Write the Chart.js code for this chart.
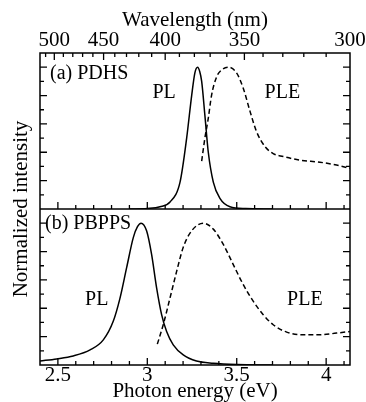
<!DOCTYPE html>
<html><head><meta charset="utf-8">
<script src="https://cdn.jsdelivr.net/npm/chart.js@4"></script>
<style>html,body{margin:0;padding:0;background:#fff;}</style>
</head><body>
<canvas id="c" width="366" height="402"></canvas>
<script>
// ---- data ----
const energyTickLabels = [2.5, 3, 3.5, 4];
const wavelengthTickLabels = [500, 450, 400, 350, 300];

// (a) PDHS
const pdhsPLEnergy  = [2.90, 3.00, 3.071, 3.127, 3.183, 3.22, 3.248, 3.266, 3.281, 3.293, 3.304, 3.322, 3.341, 3.369, 3.406, 3.462, 3.55, 3.70];
const pdhsPL        = [0.0, 0.004, 0.016, 0.05, 0.19, 0.50, 0.80, 0.96, 1.0, 0.97, 0.90, 0.66, 0.40, 0.19, 0.075, 0.016, 0.003, 0.0];
const pdhsPLEEnergy = [3.304, 3.322, 3.341, 3.359, 3.387, 3.415, 3.453, 3.499, 3.537, 3.574, 3.611, 3.658, 3.704, 3.76, 3.853, 3.965, 4.058, 4.133];
const pdhsPLE       = [0.338, 0.50, 0.64, 0.80, 0.93, 0.98, 1.0, 0.96, 0.85, 0.69, 0.545, 0.44, 0.39, 0.37, 0.345, 0.33, 0.31, 0.287];

// (b) PBPPS
const pbppsPLEnergy  = [2.40, 2.493, 2.586, 2.68, 2.754, 2.81, 2.847, 2.885, 2.922, 2.945, 2.965, 2.996, 3.024, 3.052, 3.08, 3.108, 3.145, 3.201, 3.275, 3.369, 3.50, 3.70];
const pbppsPL        = [0.028, 0.043, 0.064, 0.106, 0.177, 0.31, 0.47, 0.69, 0.90, 0.975, 1.0, 0.946, 0.78, 0.544, 0.355, 0.236, 0.142, 0.071, 0.028, 0.012, 0.003, 0.0];
const pbppsPLEEnergy = [3.056, 3.089, 3.127, 3.164, 3.201, 3.248, 3.313, 3.369, 3.425, 3.48, 3.536, 3.592, 3.648, 3.704, 3.779, 3.872, 3.965, 4.058, 4.133];
const pbppsPLE       = [0.147, 0.284, 0.473, 0.66, 0.83, 0.946, 1.0, 0.958, 0.85, 0.71, 0.568, 0.45, 0.355, 0.284, 0.232, 0.213, 0.213, 0.225, 0.236];

// ---- setup ----
const SERIF = "'Liberation Serif', 'Times New Roman', serif";
Chart.defaults.font.family = SERIF;
Chart.defaults.color = '#000';
const E_MIN = 2.4, E_MAX = 1240 / 300;
const pts = (xs, ys) => xs.map((x, i) => ({x: x, y: ys[i]}));
const solid = {borderColor: '#000', borderWidth: 1.5, pointRadius: 0, fill: false, cubicInterpolationMode: 'monotone'};
const dashed = Object.assign({}, solid, {borderDash: [5, 3]});
const axisFont = {family: SERIF, size: 21, lineHeight: 1};

const annotations = [
  {text: '(a) PDHS', x: 2.456, y: 0.952, axis: 'yA', align: 'left'},
  {text: 'PL',       x: 3.094, y: 0.821, axis: 'yA', align: 'center'},
  {text: 'PLE',      x: 3.755, y: 0.821, axis: 'yA', align: 'center'},
  {text: '(b) PBPPS',x: 2.428, y: 0.996, axis: 'yB', align: 'left'},
  {text: 'PL',       x: 2.717, y: 0.457, axis: 'yB', align: 'center'},
  {text: 'PLE',      x: 3.881, y: 0.457, axis: 'yB', align: 'center'}
];

const frameTicks = {
  id: 'frameTicks',
  afterDraw(chart) {
    const ctx = chart.ctx;
    const sx = chart.scales.x, yA = chart.scales.yA, yB = chart.scales.yB;
    const L = sx.left, R = sx.right;
    const T = Math.min(yA.top, yB.top), B = Math.max(yA.bottom, yB.bottom);
    const M = yA.top < yB.top ? yA.bottom : yB.bottom;
    ctx.save();
    ctx.strokeStyle = '#000';
    ctx.lineWidth = 1.5;
    ctx.strokeRect(L, T, R - L, B - T);
    ctx.beginPath(); ctx.moveTo(L, M); ctx.lineTo(R, M); ctx.stroke();
    ctx.lineWidth = 1.3;
    ctx.beginPath();
    // energy ticks (bottom frame and panel divider), pointing up
    for (let k = 25; k <= 41; k++) {
      const px = sx.getPixelForValue(k / 10);
      const len = (k % 5 === 0) ? 7 : 4;
      ctx.moveTo(px, B); ctx.lineTo(px, B - len);
      ctx.moveTo(px, M); ctx.lineTo(px, M - len);
    }
    // wavelength ticks (top frame), pointing down
    for (let l = 310; l <= 510; l += 10) {
      const px = sx.getPixelForValue(1240 / l);
      if (px < L + 1 || px > R - 1) continue;
      const len = (l % 50 === 0) ? 7 : 4;
      ctx.moveTo(px, T); ctx.lineTo(px, T + len);
    }
    // intensity ticks, both sides, both panels
    [yA, yB].forEach(ys => {
      for (let k = 1; k <= 10; k++) {
        const py = ys.getPixelForValue(k / 10);
        const len = (k % 2 === 0) ? 7 : 4;
        ctx.moveTo(L, py); ctx.lineTo(L + len, py);
        ctx.moveTo(R, py); ctx.lineTo(R - len, py);
      }
    });
    ctx.stroke();
    // y title
    ctx.fillStyle = '#000';
    ctx.font = '21px ' + SERIF;
    ctx.textAlign = 'center';
    ctx.textBaseline = 'middle';
    ctx.save();
    ctx.translate(L - 19, (T + B) / 2);
    ctx.rotate(-Math.PI / 2);
    ctx.fillText('Normalized intensity', 0, 0);
    ctx.restore();
    // panel annotations
    ctx.font = '20px ' + SERIF;
    annotations.forEach(a => {
      ctx.textAlign = a.align;
      ctx.fillText(a.text, sx.getPixelForValue(a.x), chart.scales[a.axis].getPixelForValue(a.y));
    });
    ctx.restore();
  }
};

const yAxis = () => ({
  type: 'linear', axis: 'y', position: 'left', stack: 'panels', stackWeight: 1,
  min: 0, max: 1.1,
  ticks: {display: false, stepSize: 0.1},
  grid: {display: false, drawTicks: false},
  border: {display: false},
  afterFit: s => { s.width = 40; }
});

new Chart(document.getElementById('c'), {
  type: 'line',
  data: {
    datasets: [
      Object.assign({label: 'PDHS PL',   data: pts(pdhsPLEnergy, pdhsPL),     yAxisID: 'yA'}, solid),
      Object.assign({label: 'PDHS PLE',  data: pts(pdhsPLEEnergy, pdhsPLE),   yAxisID: 'yA'}, dashed),
      Object.assign({label: 'PBPPS PL',  data: pts(pbppsPLEnergy, pbppsPL),   yAxisID: 'yB'}, solid),
      Object.assign({label: 'PBPPS PLE', data: pts(pbppsPLEEnergy, pbppsPLE), yAxisID: 'yB'}, dashed)
    ]
  },
  options: {
    responsive: false,
    animation: false,
    devicePixelRatio: 1,
    layout: {padding: {left: 0, right: 16, top: 0, bottom: 0}},
    plugins: {legend: {display: false}, tooltip: {enabled: false}},
    scales: {
      x: {
        type: 'linear', position: 'bottom', min: E_MIN, max: E_MAX,
        grid: {display: false, drawTicks: false}, border: {display: false},
        ticks: {padding: 0, color: '#000', font: axisFont, autoSkip: false, maxRotation: 0,
                callback: v => String(v)},
        afterBuildTicks: s => { s.ticks = energyTickLabels.map(v => ({value: v})); },
        title: {display: true, text: 'Photon energy (eV)', color: '#000', font: axisFont, padding: {top: 0, bottom: 0}},
        afterFit: s => { s.height = 37; s.paddingLeft = 0; s.paddingRight = 0; }
      },
      xTop: {
        type: 'linear', axis: 'x', position: 'top', min: E_MIN, max: E_MAX,
        grid: {display: false, drawTicks: false}, border: {display: false},
        ticks: {padding: 2, color: '#000', font: axisFont, autoSkip: false, maxRotation: 0,
                callback: v => String(Math.round(1240 / v))},
        afterBuildTicks: s => { s.ticks = wavelengthTickLabels.map(l => ({value: 1240 / l})); },
        title: {display: true, text: 'Wavelength (nm)', color: '#000', font: axisFont, padding: {top: 10, bottom: 0}},
        afterFit: s => { s.height = 53; s.paddingLeft = 0; s.paddingRight = 0; }
      },
      yB: yAxis(),
      yA: yAxis()
    }
  },
  plugins: [frameTicks]
});
</script>
</body></html>
